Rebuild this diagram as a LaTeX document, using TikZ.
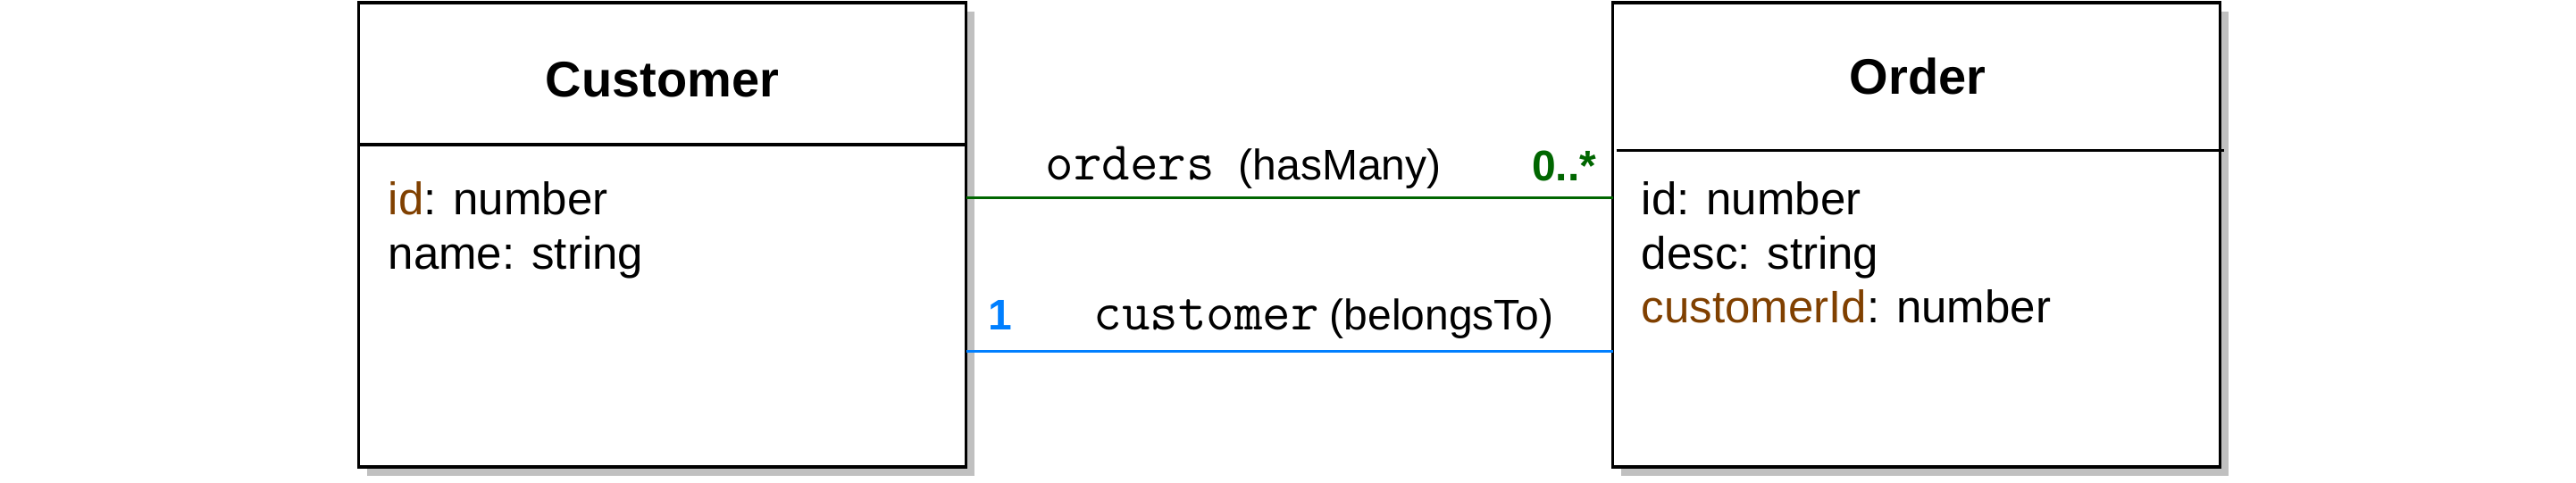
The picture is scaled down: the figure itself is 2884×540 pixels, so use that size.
\documentclass[tikz,border=0pt]{standalone}
\usepackage{fontspec}
\setmainfont{Liberation Sans}
\usetikzlibrary{shadows,calc}
\definecolor{relgreen}{RGB}{0,102,0}
\definecolor{relblue}{RGB}{0,127,255}
\definecolor{keybrown}{RGB}{128,64,0}
\definecolor{shadowgray}{RGB}{192,192,192}
\begin{document}
\begin{tikzpicture}[x=0.25pt,y=-0.25pt,
  classbox/.style={draw=black, line width=0.95pt, fill=white,
    minimum width=170pt, minimum height=130pt, inner sep=0pt, outer sep=0pt,
    anchor=north west,
    drop shadow={shadow xshift=2.4pt, shadow yshift=-2.4pt, fill=shadowgray, opacity=1}},
  sepline/.style={line width=0.95pt, draw=black},
  classtitle/.style={font=\fontsize{14}{16.8}\selectfont\bfseries, inner sep=0pt, anchor=base},
  attr/.style={font=\fontsize{12.75}{15}\selectfont, inner sep=0pt, anchor=base west},
  relname/.style={font=\fontsize{15.3}{17}\selectfont\ttfamily, inner sep=0pt, anchor=base west},
  reltype/.style={font=\fontsize{12}{14}\selectfont, inner sep=0pt, anchor=base west},
  mult/.style={font=\fontsize{12}{14}\selectfont\bfseries, inner sep=0pt},
  greenrel/.style={draw=relgreen, line width=0.75pt},
  bluerel/.style={draw=relblue, line width=0.75pt}
]
\useasboundingbox (0,0) rectangle (2884,540);

% class boxes
\node[classbox] (cust) at (401.5,3) {};
\node[classbox] (ord) at (1805.5,3) {};

% header separators
\draw[sepline] (cust.west |- 0,162) -- (cust.east |- 0,162);
\draw[sepline] ($(ord.west |- 0,168.5)+(4,0)$) -- ($(ord.east |- 0,168.5)+(4,0)$);

% titles
\node[classtitle] (custtitle) at (741.5,108.5) {Customer};
\node[classtitle] (ordtitle) at (2147,105) {Order};

% attributes
\node[attr] (custid) at (434,240) {\textcolor{keybrown}{id}: number};
\node[attr] (custname) at (434,301) {name: string};
\node[attr] (ordid) at (1837,240) {id: number};
\node[attr] (orddesc) at (1837,301) {desc: string};
\node[attr] (ordcust) at (1837,361) {\textcolor{keybrown}{customerId}: number};

% connectors
\draw[greenrel] (cust.east |- 0,221) -- (ord.west |- 0,221);
\draw[bluerel] (cust.east |- 0,393) -- (ord.west |- 0,393);

% labels
\node[relname] (ordersname) at (1170,201) {orders};
\node[reltype] (ordersrel) at (1386,201) {(hasMany)};
\node[mult, text=relgreen, anchor=base east] (manymult) at (1788,202) {0..*};
\node[relname] (customername) at (1224,369) {customer};
\node[reltype] (customerrel) at (1488,369) {(belongsTo)};
\node[mult, text=relblue, anchor=base west] (onemult) at (1106,369) {1};
\end{tikzpicture}
\end{document}
